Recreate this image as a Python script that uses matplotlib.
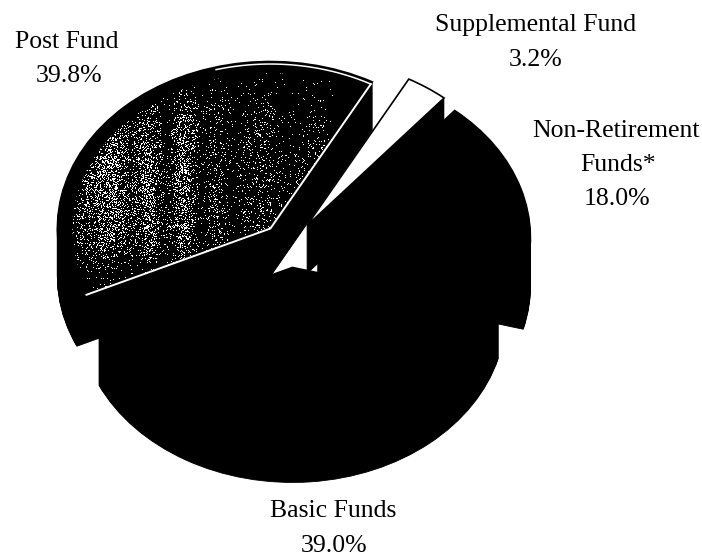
import numpy as np
import matplotlib
matplotlib.use("Agg")
import matplotlib.pyplot as plt

labels = ["Post Fund", "Basic Funds", "Non-Retirement", "Funds*", "Supplemental Fund"]
values = [39.8, 39.0, 18.0, 3.2]
pct_labels = ["39.8%", "39.0%", "18.0%", "3.2%"]

W, H = 702, 560
A, B = 213.0, 167.0          # ellipse semi-axes in pixels
CX, CY = 290.0, 245.0        # pie centre in pixels
DEPTH = 48
START = 61.4
EXPLODE = [0.135, 0.135, 0.135, 0.14]

fig = plt.figure(figsize=(7.02, 5.6), dpi=100)
ax = fig.add_axes([0, 0, 1, 1])


def layer(dy, colors, z, radius=1.0, **kw):
    wedges, _ = ax.pie(values, explode=EXPLODE, startangle=START, radius=radius,
                       center=(CX / A, -(CY + dy) / B), colors=colors,
                       normalize=True, **kw)
    for w, c, zz in zip(wedges, colors, z):
        w.set_zorder(zz)
        if c == "none":
            w.set_visible(False)
    return wedges


wall_z = [4, 8, 6, 2]

# extruded walls
for d in range(DEPTH, 0, -1):
    layer(d, ["black"] * 4, wall_z, wedgeprops=dict(edgecolor="black", linewidth=0.6))

# top faces
top = layer(0, ["black", "black", "black", "white"], [5, 9, 7, 3],
            wedgeprops=dict(edgecolor="black", linewidth=1.2))

# Post Fund speckle texture
post = top[0]
bands_x = [60, 85, 112, 130, 150, 165, 185, 200, 215, 235, 262, 285, 305, 318, 335]
bands_p = [.06, .18, .36, .14, .32, .05, .36, .04, .14, .03, .14, .03, .07, .12, 0]
xx, yy = np.meshgrid(np.arange(W), np.arange(H))
h = np.sin(xx * 12.9898 + yy * 78.233) * 43758.5453
h = h - np.floor(h)
env = np.clip((yy - 75) / 70, 0, 1) * np.clip((272 - yy) / 40, 0, 1)
dens = np.interp(xx, bands_x, bands_p) * (0.12 + 0.88 * env)
tex = (h < dens).astype(float)
img = ax.imshow(tex, cmap="gray", vmin=0, vmax=1, extent=(0, W / A, -H / B, 0),
                origin="upper", interpolation="nearest", zorder=5.1)
inner = layer(0, ["black", "none", "none", "none"], [5, 0, 0, 0], radius=0.93)
clip = inner[0]
clip.set_facecolor("none")
clip.set_visible(True)
img.set_clip_path(clip)

# white rim on the Post Fund face
t1, t2 = np.deg2rad(post.theta1), np.deg2rad(post.theta2)
cx, cy = post.center
ins = 0.985
arc = np.linspace(t1, np.deg2rad(105), 40)
ax.plot(cx + ins * np.cos(arc), cy + ins * np.sin(arc), color="white", lw=1.1, zorder=5.3)
ax.plot([cx + ins * np.cos(t1), cx, cx + 0.95 * np.cos(t2)],
        [cy + ins * np.sin(t1), cy, cy + 0.95 * np.sin(t2)],
        color="white", lw=1.4, zorder=5.3, solid_joinstyle="miter")

ax.set_aspect("auto")
ax.set_xlim(0, W / A)
ax.set_ylim(-H / B, 0)
ax.axis("off")


def put(px, py, s):
    ax.text(px / A, -py / B, s, ha="center", va="center", fontsize=18.5,
            family="Liberation Serif", color="black", zorder=20)


put(67, 42, labels[0])
put(69, 76, pct_labels[0])
put(536, 25, labels[4])
put(536, 60, pct_labels[3])
put(616, 131, labels[2])
put(618, 165, labels[3])
put(617, 199, pct_labels[2])
put(333, 511, labels[1])
put(334, 546, pct_labels[1])

fig.savefig("out.png", dpi=100, facecolor="white")
